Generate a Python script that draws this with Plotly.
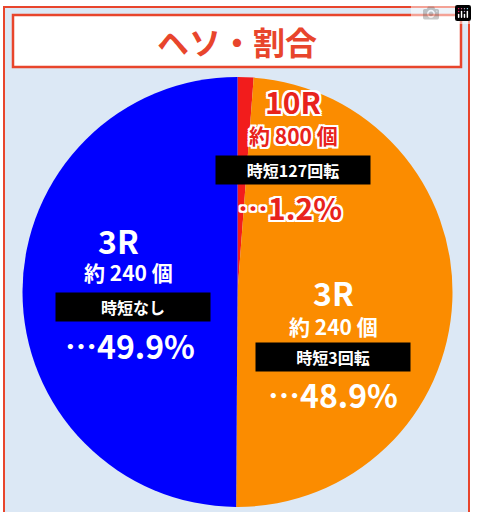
import plotly.graph_objects as go

labels = ["10R", "3R 時短3回転", "3R 時短なし"]
values = [1.2, 48.9, 49.9]
colors = ["#f21c1c", "#fb8c00", "#0000ff"]

W, H = 477, 512
fig = go.Figure(go.Pie(
    labels=labels, values=values, sort=False, direction="clockwise", rotation=0,
    marker=dict(colors=colors, line=dict(width=0)), textinfo="none", hoverinfo="label+percent",
    domain=dict(x=[22/W, 453/W], y=[1-507/H, 1-77/H]), showlegend=False))

def px(x): return x / W
def py(y): return 1 - y / H

shapes = [
    dict(type="rect", xref="paper", yref="paper", x0=px(4), x1=px(469), y0=py(514), y1=py(7),
         line=dict(color="#e8452c", width=2), fillcolor="#dce8f5", layer="below"),
    dict(type="rect", xref="paper", yref="paper", x0=px(13), x1=px(461), y0=py(67), y1=py(15),
         line=dict(color="#e8452c", width=2.5), fillcolor="white", layer="below"),
]
font = "Noto Sans CJK JP"
anns = [dict(text="<b>ヘソ・割合</b>", x=px(237), y=py(41), font=dict(size=32, color="#e8452c", family=font))]

wsh = "2px 0 0 #fff, -2px 0 0 #fff, 0 2px 0 #fff, 0 -2px 0 #fff, 2px 2px 0 #fff, -2px -2px 0 #fff, 2px -2px 0 #fff, -2px 2px 0 #fff"

def txt(t, x, y, size, color, shadow=None):
    f = dict(size=size, color=color, family=font)
    if shadow:
        f["shadow"] = shadow
    anns.append(dict(text=f"<b>{t}</b>", x=px(x), y=py(y), font=f))

def box(t, x, y, w):
    anns.append(dict(text=f"<b>{t}</b>", x=px(x), y=py(y), bgcolor="black", width=w,
                     font=dict(size=16, color="white", family=font), borderpad=2))

txt("10R", 293, 101, 30, "#e8231c", wsh)
txt("約 800 個", 293, 135, 21, "#e8231c", wsh)
box("時短127回転", 293, 170, 150)
txt("…1.2%", 290, 207, 30, "#e8231c", wsh)

txt("3R", 118, 240, 32, "white")
txt("約 240 個", 128, 272, 21, "white")
box("時短なし", 133, 307, 150)
txt("…49.9%", 130, 345, 32, "white")

txt("3R", 333, 292, 32, "white")
txt("約 240 個", 333, 326, 21, "white")
box("時短3回転", 333, 357, 150)
txt("…48.9%", 333, 394, 32, "white")

for a in anns:
    a.update(xref="paper", yref="paper", showarrow=False, xanchor="center", yanchor="middle")

fig.update_layout(width=W, height=H, margin=dict(l=0, r=0, t=0, b=0),
                  paper_bgcolor="white", plot_bgcolor="white", shapes=shapes, annotations=anns)
fig.write_html("out.html", post_script="document.body.style.margin='0';document.body.style.overflow='hidden';")
